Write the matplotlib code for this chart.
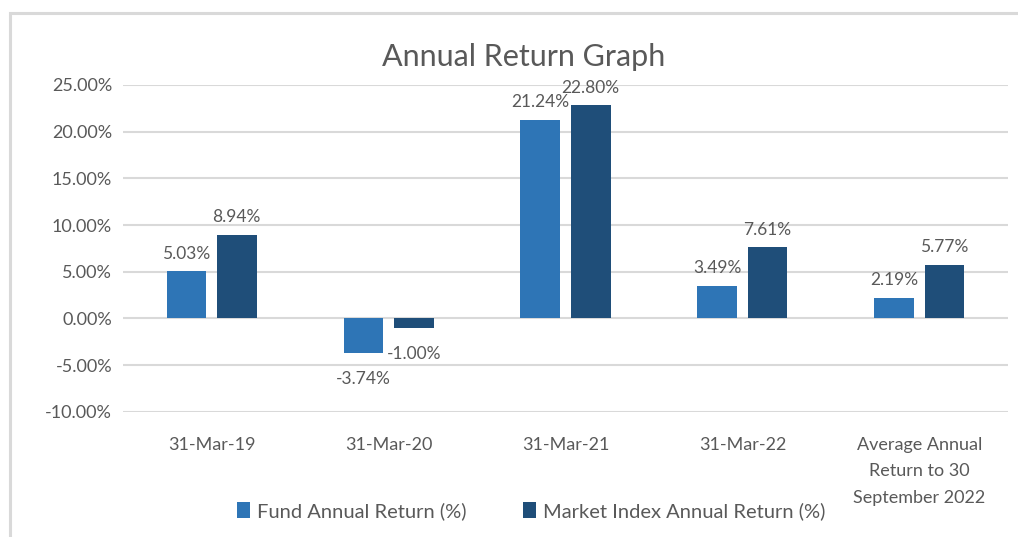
import numpy as np
import matplotlib
matplotlib.use("Agg")
import matplotlib.pyplot as plt
from matplotlib.patches import Rectangle
from matplotlib.ticker import FuncFormatter

plt.rcParams['font.family'] = ['Lato', 'DejaVu Sans']

# data
categories = ['31-Mar-19', '31-Mar-20', '31-Mar-21', '31-Mar-22',
              'Average Annual\nReturn to 30\nSeptember 2022']
fund = [5.03, -3.74, 21.24, 3.49, 2.19]
market = [8.94, -1.00, 22.80, 7.61, 5.77]
series_names = ['Fund Annual Return (%)', 'Market Index Annual Return (%)']

fund_col = '#2E75B6'
market_col = '#1F4E79'
text_col = '#595959'

fig = plt.figure(figsize=(10.18, 5.37), dpi=100)
ax = fig.add_axes([0.121, 0.233, 0.869, 0.609])

# chart border like the spreadsheet export
fig.patches.append(Rectangle((0.0098, -0.05), 1.2, 1.025, transform=fig.transFigure,
                             fill=False, edgecolor='#d9d9d9', linewidth=2.2))

x = np.arange(len(categories))
w = 0.225
off = 0.142
b1 = ax.bar(x - off, fund, w, color=fund_col, label=series_names[0], zorder=3)
b2 = ax.bar(x + off, market, w, color=market_col, label=series_names[1], zorder=3)

# value labels
for rects, vals in ((b1, fund), (b2, market)):
    for r, v in zip(rects, vals):
        cx = r.get_x() + r.get_width() / 2
        if v >= 0:
            ax.annotate(f'{v:.2f}%', (cx, v), xytext=(0, 7), textcoords='offset points',
                        ha='center', va='bottom', fontsize=12.5, color=text_col)
        else:
            ax.annotate(f'{v:.2f}%', (cx, v), xytext=(0, -13), textcoords='offset points',
                        ha='center', va='top', fontsize=12.5, color=text_col)

ax.set_ylim(-10, 25)
ax.set_yticks(np.arange(-10, 26, 5))
ax.yaxis.set_major_formatter(FuncFormatter(lambda v, p: f'{v:.2f}%'))
ax.set_xlim(-0.5, len(categories) - 0.5)
ax.set_xticks(x)
ax.set_xticklabels(categories, fontsize=13, color=text_col, linespacing=1.8, va='top')
ax.tick_params(axis='y', labelsize=13, colors=text_col, length=0, pad=8)
ax.tick_params(axis='x', length=0, pad=18)
ax.grid(axis='y', color='#d9d9d9', linewidth=1.5, zorder=0)
for s in ax.spines.values():
    s.set_visible(False)

fig.text(0.514, 0.893, 'Annual Return Graph', ha='center', va='center',
         fontsize=22, color=text_col)

leg = fig.legend(handles=[b1, b2], loc='center', bbox_to_anchor=(0.522, 0.048),
                 ncol=2, frameon=False, fontsize=14.5, handlelength=0.65, handleheight=0.85,
                 handletextpad=0.35, columnspacing=2.8)
for t in leg.get_texts():
    t.set_color(text_col)

fig.savefig('out.png', dpi=100)
